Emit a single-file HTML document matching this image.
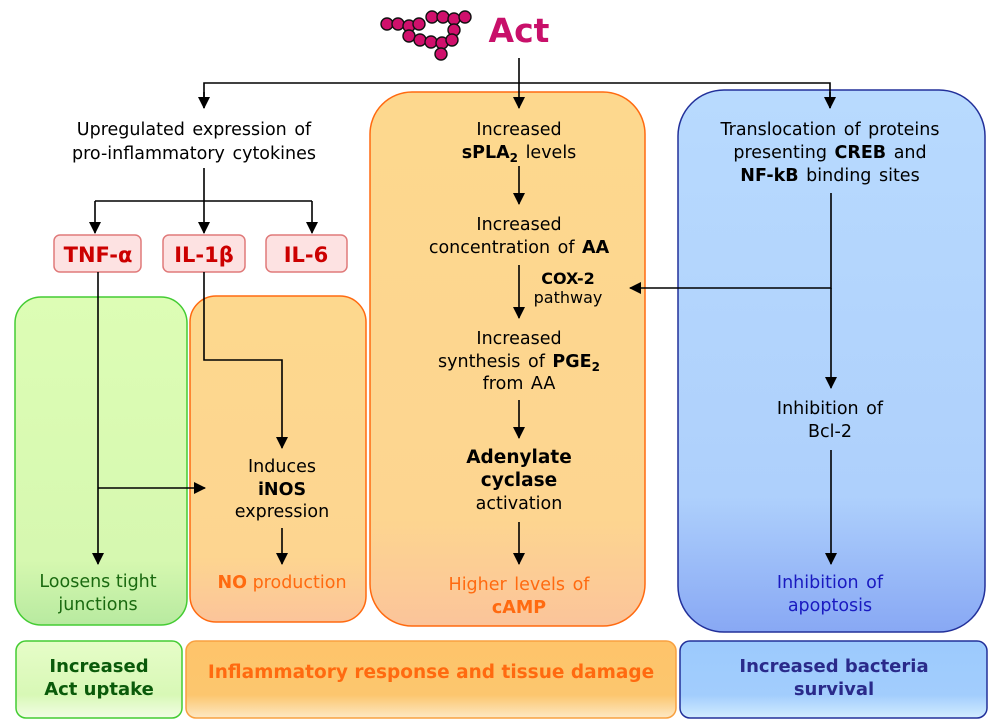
<!DOCTYPE html>
<html><head><style>body{margin:0;background:#fff}svg{display:block}text{font-family:"DejaVu Sans","Liberation Sans",sans-serif}</style></head><body>
<svg width="1000" height="727" viewBox="0 0 1000 727" xmlns="http://www.w3.org/2000/svg">
<defs>
<marker id="a" markerWidth="12" markerHeight="12" refX="11" refY="6" orient="auto" markerUnits="userSpaceOnUse"><path d="M0,0 L12,6 L0,12z" fill="#000"/></marker>
<linearGradient id="g" x1="0" y1="0" x2="0" y2="1"><stop offset="0" stop-color="#ddfdb5"/><stop offset=".8" stop-color="#d6f8b0"/><stop offset="1" stop-color="#b8eaa0"/></linearGradient>
<linearGradient id="o" x1="0" y1="0" x2="0" y2="1"><stop offset="0" stop-color="#fdd88e"/><stop offset=".8" stop-color="#fdd590"/><stop offset="1" stop-color="#fbc49a"/></linearGradient>
<linearGradient id="b" x1="0" y1="0" x2="0" y2="1"><stop offset="0" stop-color="#b8dafe"/><stop offset=".75" stop-color="#aed0fc"/><stop offset="1" stop-color="#88a8f4"/></linearGradient>
<linearGradient id="g2" x1="0" y1="0" x2="0" y2="1"><stop offset="0" stop-color="#e6fdc8"/><stop offset=".7" stop-color="#d8f8b6"/><stop offset="1" stop-color="#f2fde6"/></linearGradient>
<linearGradient id="o2" x1="0" y1="0" x2="0" y2="1"><stop offset="0" stop-color="#fec46a"/><stop offset=".7" stop-color="#fcc66e"/><stop offset="1" stop-color="#fde8c4"/></linearGradient>
<linearGradient id="b2" x1="0" y1="0" x2="0" y2="1"><stop offset="0" stop-color="#9ccafd"/><stop offset=".7" stop-color="#a2cdfd"/><stop offset="1" stop-color="#d2ecff"/></linearGradient>
</defs>
<g fill="#d0106c" stroke="#111" stroke-width="1.4">
<circle cx="387" cy="24" r="6"/><circle cx="398" cy="24" r="6"/><circle cx="409" cy="26" r="6"/><circle cx="419" cy="24" r="6"/><circle cx="409" cy="36" r="6"/>
<circle cx="432" cy="17" r="6"/><circle cx="443" cy="17" r="6"/><circle cx="454" cy="19" r="6"/><circle cx="465" cy="17" r="6"/><circle cx="454" cy="30" r="6"/>
<circle cx="420" cy="40" r="6"/><circle cx="431" cy="42" r="6"/><circle cx="442" cy="43" r="6"/><circle cx="452" cy="40" r="6"/><circle cx="441" cy="54" r="6"/>
</g>
<text x="519" y="42" font-size="33" font-weight="bold" fill="#c8106a" text-anchor="middle">Act</text>
<rect x="15" y="297" width="172" height="328" rx="26" fill="url(#g)" stroke="#44cc33" stroke-width="1.5"/>
<rect x="190" y="296" width="176" height="326" rx="26" fill="url(#o)" stroke="#ff6a10" stroke-width="1.5"/>
<rect x="370" y="92" width="275" height="534" rx="42" fill="url(#o)" stroke="#ff6a10" stroke-width="1.5"/>
<rect x="678" y="90" width="307" height="542" rx="46" fill="url(#b)" stroke="#22309a" stroke-width="1.5"/>
<rect x="16" y="641" width="166" height="77" rx="10" fill="url(#g2)" stroke="#44cc33" stroke-width="1.5"/>
<rect x="186" y="641" width="490" height="77" rx="10" fill="url(#o2)" stroke="#f8a040" stroke-width="1.5"/>
<rect x="680" y="641" width="307" height="77" rx="10" fill="url(#b2)" stroke="#22309a" stroke-width="1.5"/>
<g fill="#fde2e2" stroke="#e07a7a" stroke-width="1.5">
<rect x="54" y="235" width="87" height="37" rx="6"/><rect x="163" y="235" width="82" height="37" rx="6"/><rect x="266" y="235" width="81" height="37" rx="6"/>
</g>
<g font-size="21" font-weight="bold" fill="#cc0000" text-anchor="middle">
<text x="98" y="262">TNF-α</text><text x="204" y="262">IL-1β</text><text x="306" y="262">IL-6</text>
</g>
<g stroke="#000" stroke-width="1.6" fill="none">
<path d="M519 58 V108" marker-end="url(#a)"/>
<path d="M204 108 V83 H830 V108"/>
<path d="M204 92 V108" marker-end="url(#a)"/><path d="M830 92 V108" marker-end="url(#a)"/>
<path d="M204 168 V233" marker-end="url(#a)"/>
<path d="M95 201 H312"/><path d="M95 201 V233" marker-end="url(#a)"/><path d="M312 201 V233" marker-end="url(#a)"/>
<path d="M519 166 V204" marker-end="url(#a)"/>
<path d="M519 265 V318" marker-end="url(#a)"/>
<path d="M519 400 V438" marker-end="url(#a)"/>
<path d="M519 522 V564" marker-end="url(#a)"/>
<path d="M831 193 V288 H630" marker-end="url(#a)"/>
<path d="M831 288 V388" marker-end="url(#a)"/>
<path d="M831 450 V564" marker-end="url(#a)"/>
<path d="M98 272 V564" marker-end="url(#a)"/>
<path d="M98 488 H205" marker-end="url(#a)"/>
<path d="M204 272 V360 H282 V448" marker-end="url(#a)"/>
<path d="M282 528 V564" marker-end="url(#a)"/>
</g>
<g font-size="17.5" fill="#000" text-anchor="middle" word-spacing="2">
<text x="194" y="135">Upregulated expression of</text>
<text x="194" y="159">pro-inflammatory cytokines</text>
<text x="519" y="135">Increased</text>
<text x="519" y="158"><tspan font-weight="bold">sPLA<tspan font-size="12" dy="4">2</tspan></tspan><tspan dy="-4"> levels</tspan></text>
<text x="519" y="230">Increased</text>
<text x="519" y="253">concentration of <tspan font-weight="bold">AA</tspan></text>
<text x="568" y="284" font-size="16" font-weight="bold">COX-2</text>
<text x="568" y="303" font-size="16">pathway</text>
<text x="519" y="344">Increased</text>
<text x="519" y="367">synthesis of <tspan font-weight="bold">PGE<tspan font-size="12" dy="4">2</tspan></tspan></text>
<text x="519" y="389">from AA</text>
<text x="519" y="463" font-size="18.5" font-weight="bold">Adenylate</text>
<text x="519" y="486" font-size="18.5" font-weight="bold">cyclase</text>
<text x="519" y="509">activation</text>
<text x="830" y="135">Translocation of proteins</text>
<text x="830" y="158">presenting <tspan font-weight="bold">CREB</tspan> and</text>
<text x="830" y="181"><tspan font-weight="bold">NF-kB</tspan> binding sites</text>
<text x="830" y="414">Inhibition of</text>
<text x="830" y="437">Bcl-2</text>
<text x="282" y="472">Induces</text>
<text x="282" y="495" font-weight="bold">iNOS</text>
<text x="282" y="517">expression</text>
<text x="98" y="587" fill="#1a6a10" word-spacing="0">Loosens tight</text>
<text x="98" y="610" fill="#1a6a10">junctions</text>
<text x="282" y="588" fill="#ff6a10" word-spacing="0"><tspan font-weight="bold">NO</tspan> production</text>
<text x="519" y="590" fill="#ff6a10">Higher levels of</text>
<text x="519" y="613" fill="#ff6a10" font-weight="bold">cAMP</text>
<text x="830" y="588" fill="#1a1ac0">Inhibition of</text>
<text x="830" y="611" fill="#1a1ac0">apoptosis</text>
</g>
<g font-size="18" font-weight="bold" text-anchor="middle">
<text x="99" y="672" fill="#0a5a0a">Increased</text>
<text x="99" y="695" fill="#0a5a0a">Act uptake</text>
<text x="431" y="678" fill="#ff6a10" font-size="18.5">Inflammatory response and tissue damage</text>
<text x="834" y="672" fill="#2a2a8a">Increased bacteria</text>
<text x="834" y="695" fill="#2a2a8a">survival</text>
</g>
</svg>
</body></html>
